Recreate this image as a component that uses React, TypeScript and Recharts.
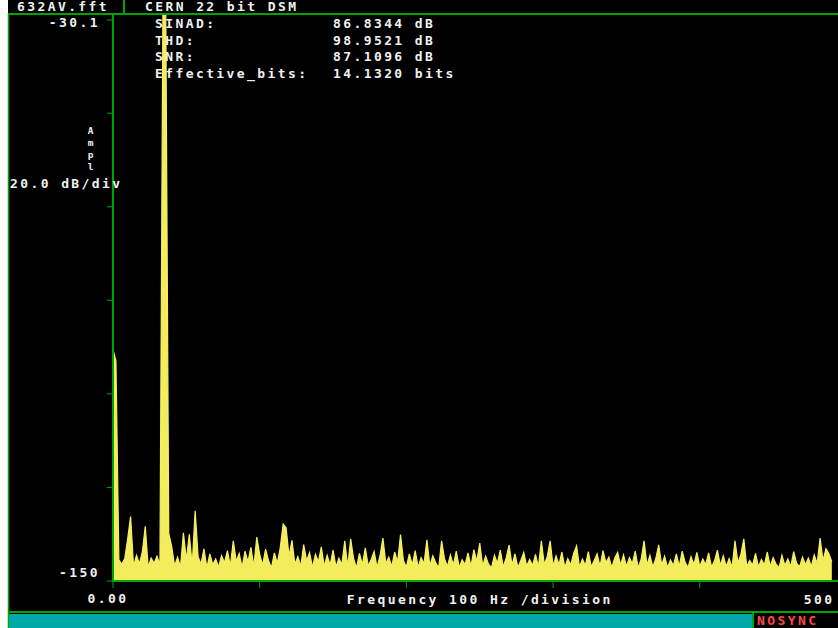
import React from "react";
import { AreaChart, Area, XAxis, YAxis } from "recharts";

// Spectrum bins are 2 Hz apart, starting at 0 Hz
const BIN_STEP_HZ = 2;
const AMPLITUDE_DB: number[] = [
  -100.5, -103, -145.5, -146.4, -145.2, -141, -136.2, -146.9, -144.5, -146.3,
  -143.8, -138.3, -147.1, -145.1, -146.2, -144.7, -146.5, -28.8, -28.8, -139.8,
  -142.6, -146.8, -144.9, -147.0, -139.7, -145.5, -140, -146.7, -135, -144.8,
  -146.4, -143.1, -147.2, -144.2, -146.5, -145.3, -147.0, -144.6, -146.1, -143.5,
  -146.8, -141.4, -145.8, -144.1, -147.1, -143.6, -145.9, -142.8, -146.9, -140.6,
  -144.3, -146.6, -143.2, -145.6, -147.2, -144, -146.2, -142.9, -137.8, -138.6,
  -144.7, -141.3, -146.4, -144.8, -146.9, -142.2, -145.7, -143.9, -147.1, -144.3,
  -145.9, -142.7, -146.9, -144.5, -146.6, -143.4, -147.0, -145.1, -146.5, -141.4,
  -147.0, -141, -145.2, -147.2, -144.1, -146.5, -142.9, -146.8, -145.4, -143.7,
  -147.1, -144.6, -140.8, -146.3, -144.9, -146.9, -143.8, -146, -140.1, -145.7,
  -147.0, -144.2, -146.6, -143.5, -147.1, -145, -146.3, -141.2, -146.8, -144.6,
  -146.1, -147.2, -141.4, -145.3, -146.9, -144.4, -146.6, -143.6, -147.1, -145.5,
  -146.5, -144, -146.9, -143.3, -145.8, -141.9, -146.8, -144.7, -146.4, -147.2,
  -144.5, -146.2, -143.4, -147.0, -145.1, -142.3, -146.6, -144.2, -147.1, -145.6,
  -143.9, -146.8, -145.4, -146.7, -144.3, -147.0, -141.4, -146.5, -144.8, -141.4,
  -146.9, -144.6, -146.5, -143.8, -147.1, -145.2, -146.6, -144.1, -142.5, -147.0,
  -145.3, -146.7, -143.7, -147.0, -145.6, -144.2, -146.9, -143.5, -146.1, -144.9,
  -147.1, -145.1, -143.9, -146.6, -144.4, -146.9, -145, -146.3, -143.6, -147.2,
  -145.4, -141.4, -146.6, -144.5, -147.0, -145.2, -142.3, -146.6, -144.7, -147.1,
  -145.5, -146.7, -144.2, -146.9, -143.6, -146, -147.1, -144.8, -146.5, -143.9,
  -146.9, -145.3, -146.5, -144, -147.0, -145.7, -143.4, -146.7, -144.6, -146.9,
  -145.2, -147.1, -141.4, -146.1, -144.3, -141, -146.9, -145.6, -146.6, -144.1,
  -147.0, -145.4, -146.6, -143.8, -146.9, -145, -146.4, -147.2, -144.5, -146.7,
  -145.3, -146.9, -143.7, -146.2, -147.0, -144.9, -146.5, -145.1, -146.9, -144.4,
  -146.3, -140.8, -145.7, -143.1, -144.2, -145.9,
];

const X_TICKS = [0, 100, 200, 300, 400, 500];
const Y_TICKS = [-150, -130, -110, -90, -70, -50, -30.1];
const X_DOMAIN: [number, number] = [0, 500];
const Y_DOMAIN: [number, number] = [-150, -28.8];

const STAT_NAMES = ["SINAD:", "THD:", "SNR:", "Effective_bits:"];
const STAT_VALUES = ["86.8344 dB", "98.9521 dB", "87.1096 dB", "14.1320 bits"];
const AMP_LETTERS = ["A", "m", "p", "l"];

const data = AMPLITUDE_DB.map((db, i) => ({ f: i * BIN_STEP_HZ, db }));

const GREEN = "#00a400";
const TEXT = "#f0f0f0";
const font: React.CSSProperties = {
  fontFamily: "'DejaVu Sans Mono', monospace",
  fontWeight: "bold",
  fontSize: 13,
  letterSpacing: 2.4,
};

const YTick = (props: any) => {
  const { x, y, payload } = props;
  const v = payload.value;
  if (v === -30.1) {
    return (
      <text x={x - 5} y={y + 7} textAnchor="end" fill={TEXT} style={font}>
        -30.1
      </text>
    );
  }
  if (v === -150) {
    return (
      <text x={x - 5} y={y - 4} textAnchor="end" fill={TEXT} style={font}>
        -150
      </text>
    );
  }
  return null;
};

const XTick = (props: any) => {
  const { x, y, payload } = props;
  const v = payload.value;
  if (v === 0) {
    return (
      <text x={x - 5} y={y + 13} textAnchor="middle" fill={TEXT} style={font}>
        0.00
      </text>
    );
  }
  if (v === 500) {
    return (
      <text x={x - 12} y={y + 14} textAnchor="end" fill={TEXT} style={font}>
        500
      </text>
    );
  }
  return null;
};

const XLabel = (props: any) => {
  const vb = props.viewBox || { x: 105, y: 581, width: 733.5 };
  return (
    <text
      x={vb.x + vb.width / 2}
      y={vb.y + 23}
      textAnchor="middle"
      fill={TEXT}
      style={font}
    >
      Frequency 100 Hz /division
    </text>
  );
};

export default function App() {
  return (
    <div
      style={{
        position: "absolute",
        left: 0,
        top: 0,
        width: 838,
        height: 628,
        overflow: "hidden",
      }}
    >
      <div
        style={{
          position: "absolute",
          left: 8,
          top: 0,
          width: 830,
          height: 628,
          background: "#000",
          overflow: "hidden",
        }}
      >
        <AreaChart
          width={841}
          height={628}
          data={data}
          margin={{ top: 14, right: 2.5, bottom: 0, left: 0 }}
        >
          <XAxis
            dataKey="f"
            type="number"
            domain={X_DOMAIN}
            ticks={X_TICKS}
            allowDataOverflow
            height={47}
            tickSize={7}
            axisLine={{ stroke: GREEN, strokeWidth: 2 }}
            tickLine={{ stroke: GREEN }}
            tick={<XTick />}
            interval={0}
            label={{ content: <XLabel /> }}
          />
          <YAxis
            type="number"
            domain={Y_DOMAIN}
            ticks={Y_TICKS}
            allowDataOverflow
            width={105}
            tickSize={6}
            axisLine={{ stroke: GREEN, strokeWidth: 2 }}
            tickLine={{ stroke: GREEN }}
            tick={<YTick />}
            interval={0}
          />
          <Area
            type="linear"
            dataKey="db"
            baseValue={-150}
            stroke="#f6f060"
            strokeWidth={1.2}
            fill="#f3ec5c"
            fillOpacity={1}
            isAnimationActive={false}
            dot={false}
            activeDot={false}
          />
        </AreaChart>
      </div>
      <svg
        width={838}
        height={628}
        style={{ position: "absolute", left: 0, top: 0, pointerEvents: "none" }}
      >
        <line x1={8} y1={14} x2={838} y2={14} stroke={GREEN} strokeWidth={2} />
        <line x1={124} y1={0} x2={124} y2={14} stroke={GREEN} strokeWidth={2} />
        <line x1={8.5} y1={14} x2={8.5} y2={628} stroke={GREEN} strokeWidth={1.5} />
        <line x1={8} y1={612} x2={838} y2={612} stroke={GREEN} strokeWidth={2} />
        <rect x={9} y={614} width={743} height={14} fill="#00a8a8" />
        <line x1={753} y1={612} x2={753} y2={628} stroke={GREEN} strokeWidth={2} />
        <text x={17} y={11} fill={TEXT} style={font}>632AV.fft</text>
        <text x={145} y={11} fill={TEXT} style={font}>CERN 22 bit DSM</text>
        {STAT_NAMES.map((s, i) => (
          <text key={s} x={155} y={28 + i * 16.7} fill={TEXT} style={font}>
            {s}
          </text>
        ))}
        {STAT_VALUES.map((s, i) => (
          <text key={s} x={333} y={28 + i * 16.7} fill={TEXT} style={font}>
            {s}
          </text>
        ))}
        {AMP_LETTERS.map((c, i) => (
          <text
            key={c}
            x={90.5}
            y={134 + i * 12}
            textAnchor="middle"
            fill={TEXT}
            style={{ ...font, fontSize: 9.5, letterSpacing: 0 }}
          >
            {c}
          </text>
        ))}
        <text x={10} y={188} fill={TEXT} style={font}>20.0 dB/div</text>
        <text x={757} y={625} fill="#ff4848" style={font}>NOSYNC</text>
      </svg>
    </div>
  );
}
